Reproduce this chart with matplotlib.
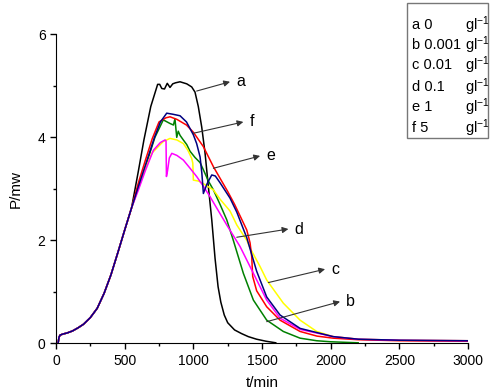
import matplotlib
matplotlib.use("Agg")
import matplotlib.pyplot as plt
import numpy as np

plt.rcParams['font.family'] = ['Liberation Sans', 'DejaVu Sans']
plt.rcParams['mathtext.default'] = 'regular'

# shared rising part of every curve
t_rise = [15, 22, 30, 50, 80, 120, 160, 200, 250, 300, 350, 400, 450, 500, 550]
p_rise = [0.0, 0.12, 0.16, 0.18, 0.20, 0.24, 0.30, 0.37, 0.50, 0.68, 0.97, 1.33, 1.76, 2.2, 2.63]

# a: 0 gl-1 (black)
t_a = [600, 640, 690, 740, 755, 770, 790, 810, 830, 850, 870, 903, 952, 988, 1012, 1036,
       1061, 1085, 1109, 1134, 1158, 1180, 1200, 1225, 1250, 1300, 1350, 1400, 1460, 1530, 1600]
p_a = [3.35, 3.95, 4.6, 5.03, 5.03, 4.95, 4.94, 5.05, 4.97, 5.04, 5.06, 5.08, 5.04, 4.98, 4.88, 4.6,
       4.2, 3.7, 3.05, 2.4, 1.65, 1.1, 0.8, 0.55, 0.4, 0.26, 0.19, 0.13, 0.08, 0.04, 0.01]

# b: 0.001 gl-1 (green)
t_b = [600, 650, 720, 781, 830, 855, 866, 879, 890, 903, 927, 952, 976, 1012, 1049, 1073, 1110,
       1146, 1194, 1243, 1291, 1364, 1437, 1534, 1655, 1777, 1898, 2000, 2200]
p_b = [3.02, 3.42, 4.0, 4.34, 4.27, 4.24, 4.36, 4.0, 4.12, 4.04, 3.95, 3.86, 3.73, 3.61, 3.51, 3.37, 3.15,
       2.98, 2.7, 2.4, 2.0, 1.36, 0.84, 0.45, 0.23, 0.1, 0.05, 0.03, 0.01]

# c: 0.01 gl-1 (yellow)
t_c = [600, 650, 700, 781, 830, 880, 927, 960, 988, 996, 1000, 1040, 1073, 1146, 1194, 1267,
       1316, 1389, 1413, 1486, 1534, 1655, 1777, 1898, 2018, 2200, 2500, 3000]
p_c = [3.05, 3.4, 3.7, 3.92, 3.98, 3.95, 3.88, 3.75, 3.59, 3.5, 3.17, 3.15, 3.1, 2.98, 2.8, 2.57,
       2.3, 2.0, 1.85, 1.49, 1.23, 0.78, 0.45, 0.23, 0.13, 0.08, 0.06, 0.05]

# d: 0.1 gl-1 (magenta)
t_d = [600, 650, 709, 760, 794, 801, 804, 812, 825, 843, 880, 927, 970, 1024, 1073, 1121, 1194,
       1243, 1340, 1437, 1534, 1631, 1777, 2018, 2200, 2500, 3000]
p_d = [2.98, 3.35, 3.75, 3.9, 3.95, 3.93, 3.24, 3.35, 3.6, 3.69, 3.65, 3.56, 3.42, 3.24, 3.05, 2.85, 2.52,
       2.3, 1.88, 1.36, 0.84, 0.49, 0.27, 0.13, 0.08, 0.06, 0.05]

# e: 1 gl-1 (red)
t_e = [600, 650, 700, 750, 800, 830, 880, 950, 1000, 1073, 1146, 1200, 1250, 1300, 1350, 1389, 1413,
       1425, 1432, 1461, 1534, 1631, 1777, 1900, 2018, 2200, 2500, 3000]
p_e = [3.12, 3.55, 3.97, 4.3, 4.38, 4.4, 4.35, 4.24, 4.1, 3.82, 3.43, 3.18, 2.95, 2.7, 2.42, 2.2, 1.95,
       1.68, 1.3, 1.02, 0.71, 0.45, 0.23, 0.14, 0.1, 0.07, 0.05, 0.04]

# f: 5 gl-1 (blue)
t_f = [600, 650, 717, 760, 806, 850, 903, 950, 976, 1000, 1024, 1049, 1062, 1073, 1100, 1134,
       1160, 1194, 1267, 1316, 1389, 1461, 1534, 1631, 1777, 2018, 2200, 2500, 3000]
p_f = [3.05, 3.45, 4.0, 4.3, 4.47, 4.45, 4.42, 4.3, 4.17, 4.05, 3.88, 3.62, 3.3, 2.91, 3.1, 3.27,
       3.25, 3.12, 2.82, 2.55, 2.05, 1.4, 0.9, 0.55, 0.29, 0.13, 0.08, 0.06, 0.05]

labels = ['a', 'b', 'c', 'd', 'e', 'f']
concs = ['0', '0.001', '0.01', '0.1', '1', '5']

# arrow start (on curve), arrow tip, for each label
arrow_from = {'a': (1024, 4.90), 'f': (1000, 4.08), 'e': (1146, 3.40),
              'd': (1316, 2.06), 'c': (1546, 1.18), 'b': (1534, 0.42)}
arrow_to = {'a': (1267, 5.08), 'f': (1364, 4.30), 'e': (1486, 3.64),
            'd': (1692, 2.22), 'c': (1959, 1.44), 'b': (2068, 0.81)}

fig = plt.figure(figsize=(5.01, 3.92), dpi=100)
ax = fig.add_axes([0.1118, 0.1242, 0.8224, 0.788])

series = [('a', t_a, p_a, 'black'), ('b', t_b, p_b, '#008000'), ('c', t_c, p_c, '#ffff00'),
          ('e', t_e, p_e, '#ff0000'), ('d', t_d, p_d, '#ff00ff'), ('f', t_f, p_f, '#000080')]
for name, t, p, col in series:
    ax.plot(t_rise + t, p_rise + p, color=col, lw=1.1)

for k in labels:
    x0, y0 = arrow_from[k]
    x1, y1 = arrow_to[k]
    ax.annotate('', xy=(x1, y1), xytext=(x0, y0),
                arrowprops=dict(arrowstyle='-|>', color='#333333', lw=0.8,
                                mutation_scale=9, shrinkA=0, shrinkB=0))
    ax.text(x1 + 45, y1, k, fontsize=11.5, va='center', ha='left')

ax.set_xlim(0, 3000)
ax.set_ylim(0, 6)
ax.set_xticks([0, 500, 1000, 1500, 2000, 2500, 3000])
ax.set_xticks(np.arange(250, 3000, 500), minor=True)
ax.set_yticks([0, 2, 4, 6])
ax.set_yticks([1, 3, 5], minor=True)
ax.tick_params(which='major', direction='out', length=4, width=1, labelsize=10)
ax.tick_params(which='minor', direction='out', length=2.5, width=1)
ax.spines['top'].set_visible(False)
ax.spines['right'].set_visible(False)
ax.set_xlabel('t/min', fontsize=11, labelpad=6)
ax.set_ylabel('P/mw', fontsize=11, labelpad=11)

# legend box
fig.patches.append(plt.Rectangle((0.8124, 0.648), 0.1616, 0.344, transform=fig.transFigure,
                                 fill=False, edgecolor='#777777', lw=1))
rows_y = [25, 45, 65, 86.7, 106.7, 128.3]
for k, c, yy in zip(labels, concs, rows_y):
    fy = 1 - yy / 392
    fig.text(412 / 501, fy, k + ' ' + c, fontsize=10.5, va='center', ha='left')
    fig.text(465 / 501, fy, 'gl$^{-1}$', fontsize=10.5, va='center', ha='left')

fig.savefig('out.png', dpi=100)
